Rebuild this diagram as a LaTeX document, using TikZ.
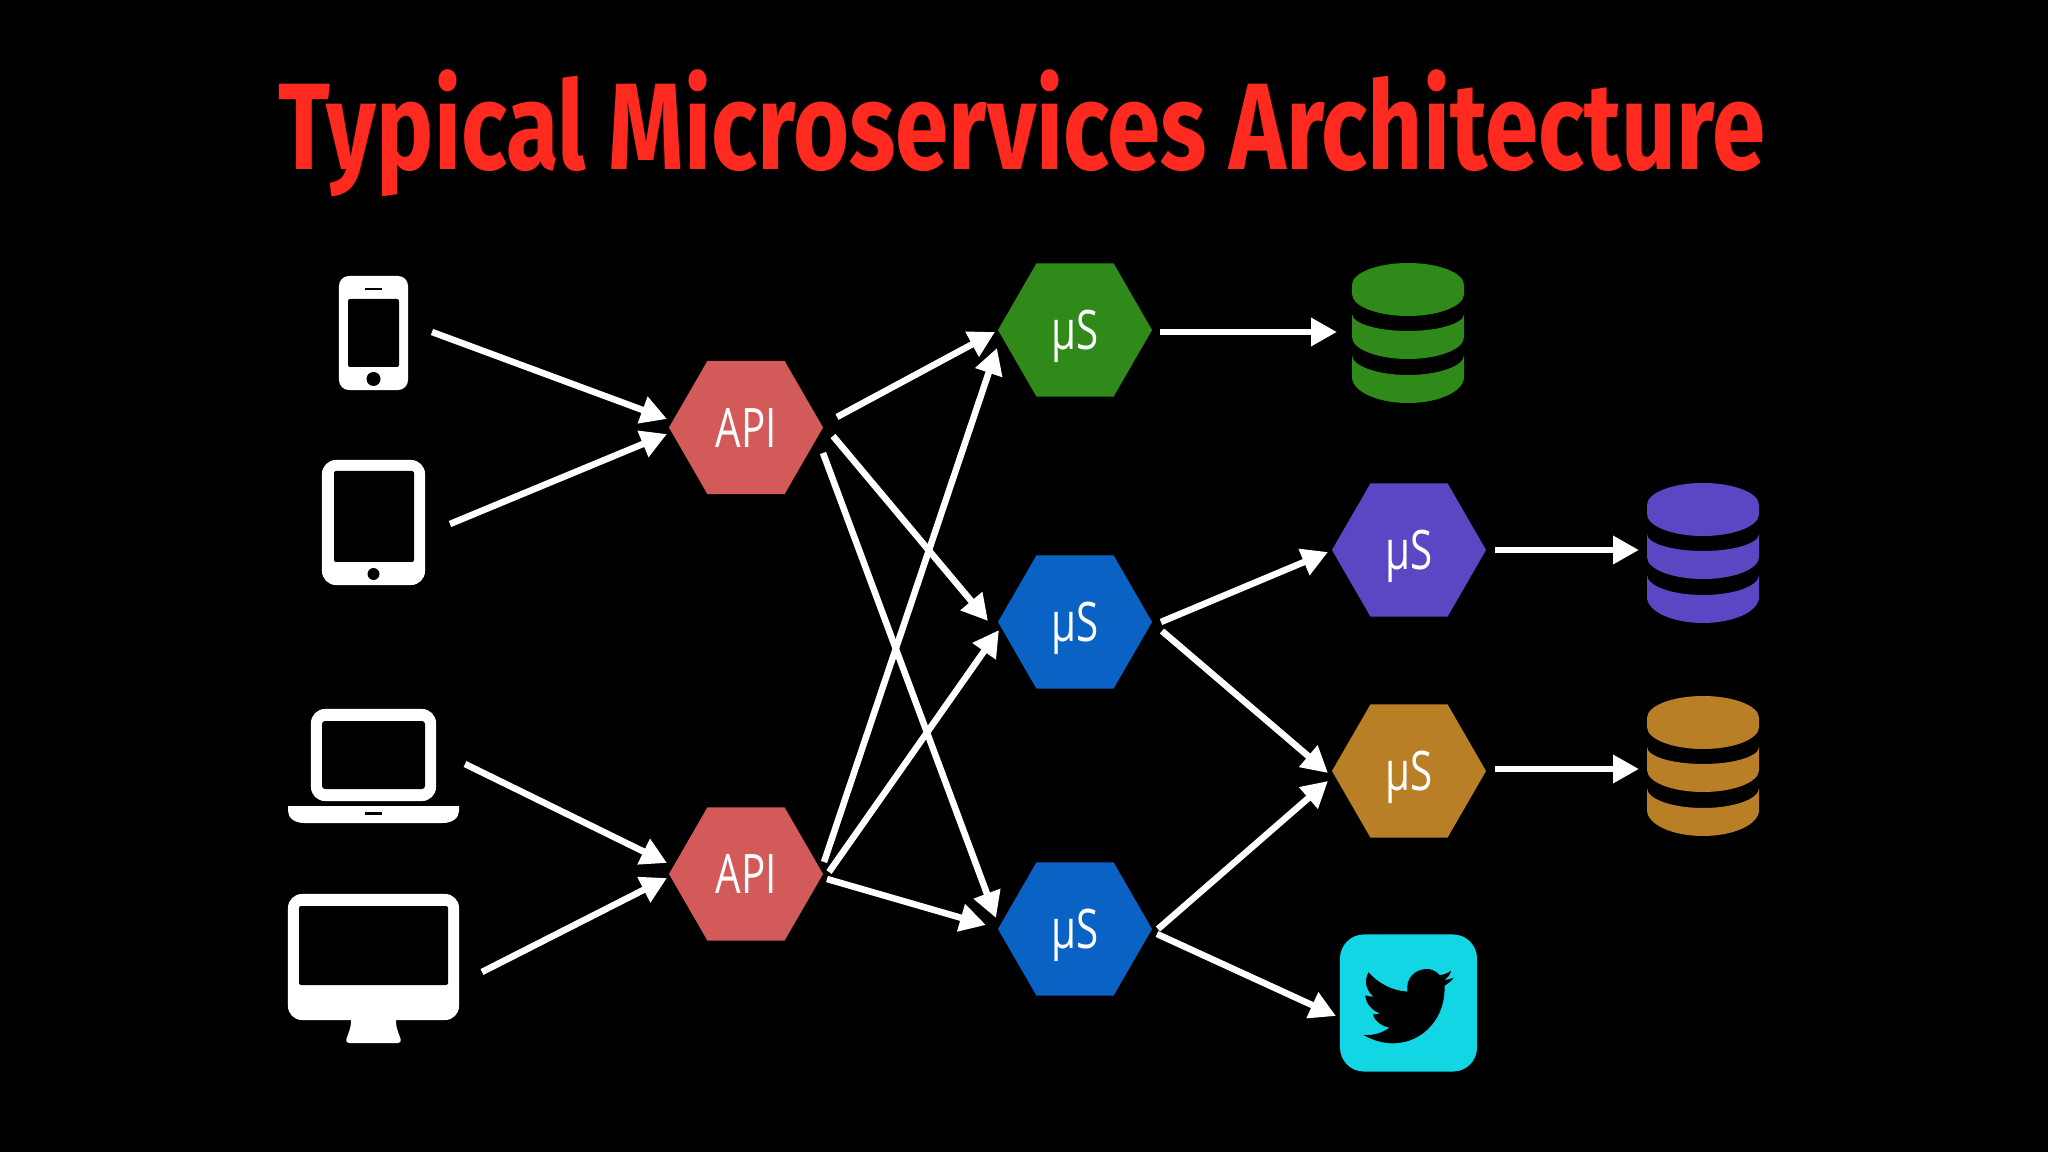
\documentclass[tikz,border=0pt]{standalone}
\usepackage{fontspec}
\usetikzlibrary{arrows.meta,positioning,shapes.geometric}
\newfontfamily\titlefont[FakeStretch=0.78]{Fira Sans}
\newfontfamily\hexfont[FakeStretch=0.74]{Open Sans}
\definecolor{apired}{HTML}{D25A58}
\definecolor{msgreen}{HTML}{2F8A1A}
\definecolor{msblue}{HTML}{0A63C4}
\definecolor{mspurple}{HTML}{5B47C4}
\definecolor{msorange}{HTML}{B97F26}
\definecolor{titlered}{HTML}{FF2A1F}
\definecolor{birdcyan}{HTML}{13D6E4}
\tikzset{
  hexnode/.style={regular polygon,regular polygon sides=6,
    minimum size=1.54cm,inner sep=0pt,outer sep=0pt,fill=#1,text=white,text depth=0pt,
    font=\hexfont\fontsize{15.5}{15.5}\selectfont},
  device/.style={rectangle,rounded corners=#1,fill=white,inner sep=0pt,outer sep=0pt},
  dbnode/.style={rectangle,minimum width=1.12cm,minimum height=1.4cm,inner sep=0pt,outer sep=0pt},
  conn/.style={draw=white,line width=0.065cm,-{Triangle[length=2.6mm,width=2.7mm]}}
}
\newcommand\dbicon[2]{%
  \begin{scope}[shift={(#1.center)}]
    \fill[#2] (-56,-48) arc[start angle=180,end angle=360,x radius=56,y radius=22]
      -- (56,-39) arc[start angle=0,end angle=180,x radius=56,y radius=22] -- cycle;
    \fill[#2] (-56,-19) arc[start angle=180,end angle=0,x radius=56,y radius=17]
      -- (56,4) arc[start angle=0,end angle=180,x radius=56,y radius=22] -- cycle;
    \fill[#2] (-56,22) arc[start angle=180,end angle=0,x radius=56,y radius=20]
      -- (56,44) arc[start angle=0,end angle=180,x radius=56,y radius=26] -- cycle;
  \end{scope}}
\begin{document}
\begin{tikzpicture}[x=0.01cm,y=-0.01cm]
  \fill[black] (0,0) rectangle (2048,1152);
  \node[text=titlered,font=\titlefont\bfseries\fontsize{35}{35}\selectfont] (title) at (1022,133) {Typical Microservices Architecture};
  % devices
  \node[device=0.1cm,minimum width=0.69cm,minimum height=1.14cm] (phone) at (373.5,333) {};
  \fill[black,rounded corners=0.02cm] (348,299) rectangle (399,367);
  \fill[black] (365,288) rectangle (382,290.5);
  \fill[black] (373.5,379) circle (7);
  \node[device=0.14cm,minimum width=1.03cm,minimum height=1.25cm] (tablet) at (373.5,522.5) {};
  \fill[black,rounded corners=0.02cm] (334,471) rectangle (414,562);
  \fill[black] (373.5,574) circle (6);
  \node[device=0.14cm,minimum width=1.25cm,minimum height=0.92cm] (laptop) at (373.5,755) {};
  \fill[black,rounded corners=0.03cm] (322,721) rectangle (425,789);
  \fill[white] (288,806) -- (459,806) -- (459,811) .. controls (459,818) and (452,823) .. (443,823)
    -- (304,823) .. controls (295,823) and (288,818) .. (288,811) -- cycle;
  \fill[black] (365,812) rectangle (382,815);
  \node[device=0.14cm,minimum width=1.71cm,minimum height=1.26cm] (desk) at (373.5,957) {};
  \fill[black,rounded corners=0.02cm] (299,906) rectangle (448,985);
  \fill[white,rounded corners=0.04cm] (351,1015) -- (351,1026) -- (345,1043) -- (402,1043) -- (396,1026) -- (396,1015) -- cycle;
  % hexagons
  \node[hexnode=apired] (apione) at (746,427.5) {API};
  \node[hexnode=apired] (apitwo) at (746,874) {API};
  \foreach \N/\P/\C in {msone/{1075,330}/msgreen,mstwo/{1075,622}/msblue,msthree/{1075,929}/msblue,msfour/{1409,550}/mspurple,msfive/{1409,771}/msorange}
    {\node[hexnode=\C] (\N) at (\P) {µS};}
  % databases and bird
  \node[dbnode] (dbone) at (1408,333) {};
  \node[dbnode] (dbtwo) at (1703,553) {};
  \node[dbnode] (dbthree) at (1703,766) {};
  \dbicon{dbone}{msgreen}
  \dbicon{dbtwo}{mspurple}
  \dbicon{dbthree}{msorange}
  \node[rectangle,rounded corners=0.24cm,fill=birdcyan,minimum size=1.37cm,inner sep=0pt,outer sep=0pt] (bird) at (1408.5,1003) {};
  \begin{scope}[shift={(bird.center)},scale=0.3333,shift={(-265,-249)}]
    \fill[black] (393,152) .. controls (382,160) and (370,165) .. (358,165)
      .. controls (345,150) and (330,147) .. (320,147)
      .. controls (285,147) and (255,175) .. (262,215)
      .. controls (215,212) and (175,190) .. (145,157)
      .. controls (130,185) and (138,210) .. (160,230)
      .. controls (150,230) and (142,228) .. (135,226)
      .. controls (138,252) and (155,272) .. (180,280)
      .. controls (172,283) and (165,283) .. (158,283)
      .. controls (165,305) and (185,320) .. (208,322)
      .. controls (190,338) and (160,347) .. (130,345)
      .. controls (160,362) and (190,370) .. (218,370)
      .. controls (310,370) and (378,290) .. (373,197)
      .. controls (385,190) and (395,182) .. (400,173)
      .. controls (392,177) and (382,180) .. (372,180)
      .. controls (382,174) and (390,164) .. (393,152) -- cycle;
  \end{scope}
  % connectors
  \foreach \A/\Ax/\Ay/\B/\Bx/\By in {
    phone/58.5/-1/apione/-79/-8.5, tablet/76.5/1.5/apione/-79/6.5,
    laptop/91.5/9/apitwo/-79/-11, desk/108.5/15/apitwo/-79/4,
    apione/91/-10.5/msone/-80/2, apione/87/8.5/mstwo/-87/-1, apione/77/25.5/msthree/-79/-11,
    apitwo/78/-12/msone/-78/18, apitwo/83/-2/mstwo/-76/8, apitwo/81/5/msthree/-89/-4,
    mstwo/86/0/msfour/-81/2, mstwo/87/9/msfive/-81/2,
    msthree/83/0/msfive/-81/10, msthree/82/5/bird/-72.5/13,
    msone/85/2/dbone/-71/-1, msfour/86/0/dbtwo/-64/-3, msfive/86/-2/dbthree/-64/3}
    {\draw[conn] ([shift={(\Ax,\Ay)}]\A.center) -- ([shift={(\Bx,\By)}]\B.center);}
\end{tikzpicture}
\end{document}
